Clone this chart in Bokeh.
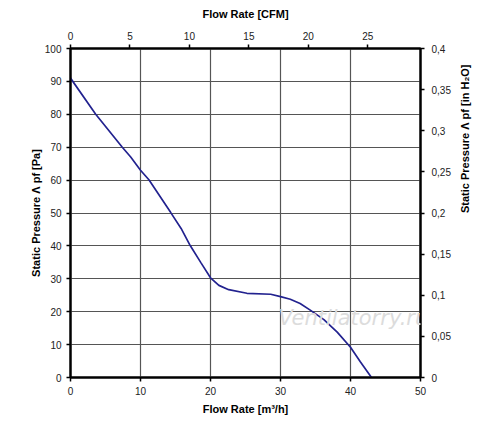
import math
from bokeh.plotting import figure
from bokeh.models import LinearAxis, Range1d, FixedTicker, CustomJSTickFormatter, Label
from bokeh.embed import file_html
from bokeh.resources import INLINE

# ---- data ----
flow_m3h = [0, 3.6, 7.4, 8.6, 10, 11.2, 14.3, 15.8, 17.1, 18.6, 20, 21.2, 22.6, 25.2,
            28.6, 30, 31.4, 32.8, 34.3, 36.2, 38.1, 40, 41.4, 43]
pressure_pa = [91, 80, 70, 67, 63, 60.1, 50.2, 45.3, 40.1, 35, 30.3, 28, 26.7, 25.6,
               25.3, 24.6, 23.8, 22.5, 20.4, 17.6, 13.8, 9.2, 4.8, 0]

m3h_ticks = [0, 10, 20, 30, 40, 50]
pa_ticks = [0, 10, 20, 30, 40, 50, 60, 70, 80, 90, 100]
cfm_ticks = [0, 5, 10, 15, 20, 25]
inh2o_ticks = [0, 0.05, 0.1, 0.15, 0.2, 0.25, 0.3, 0.35, 0.4]

M3H_MAX = 50
PA_MAX = 100
M3H_PER_CFM = 1.699
INH2O_MAX = 0.4

x_title = "Flow Rate [m³/h]"
top_title = "Flow Rate [CFM]"
y_title = "Static Pressure Λ pf [Pa]"
y2_title = "Static Pressure Λ pf [in H₂O]"
watermark = "Ventilatorry.ru"

FONT = "Liberation Sans"

p = figure(frame_width=350, frame_height=329,
           min_border_left=70, min_border_right=78, min_border_top=48, min_border_bottom=42,
           x_range=Range1d(0, M3H_MAX), y_range=Range1d(0, PA_MAX),
           output_backend="svg", toolbar_location=None)
p.background_fill_color = "white"
p.border_fill_color = "white"
p.outline_line_color = "black"
p.outline_line_width = 2

p.extra_x_ranges = {"cfm": Range1d(0, M3H_MAX / M3H_PER_CFM)}
p.extra_y_ranges = {"inh2o": Range1d(0, INH2O_MAX)}

def style(ax, title, standoff, label_standoff=5):
    ax.axis_label = title
    ax.axis_label_text_font = FONT
    ax.axis_label_text_font_style = "bold"
    ax.axis_label_text_font_size = "11px"
    ax.axis_label_text_color = "black"
    ax.axis_label_standoff = standoff
    ax.major_label_text_font = FONT
    ax.major_label_text_font_size = "10px"
    ax.major_label_text_color = "#222222"
    ax.major_label_standoff = label_standoff
    ax.axis_line_color = "black"
    ax.axis_line_width = 2
    ax.major_tick_line_color = "black"
    ax.major_tick_line_width = 1.5
    ax.major_tick_out = 4
    ax.major_tick_in = 0
    ax.minor_tick_line_color = None

xb = p.xaxis[0]
xb.ticker = FixedTicker(ticks=m3h_ticks)
style(xb, x_title, 5)

yl = p.yaxis[0]
yl.ticker = FixedTicker(ticks=pa_ticks)
style(yl, y_title, 0)

xt = LinearAxis(x_range_name="cfm", ticker=FixedTicker(ticks=cfm_ticks))
style(xt, top_title, 9)
p.add_layout(xt, "above")

yr = LinearAxis(y_range_name="inh2o", ticker=FixedTicker(ticks=inh2o_ticks))
yr.formatter = CustomJSTickFormatter(code="""
let s = tick.toFixed(2).replace(/0+$/, '').replace(/\\.$/, '');
return s.replace('.', ',');
""")
style(yr, y2_title, 11, 7)
if "axis_label_orientation" in LinearAxis.properties():
    yr.axis_label_orientation = math.pi / 2
p.add_layout(yr, "right")

p.xgrid.ticker = FixedTicker(ticks=m3h_ticks)
p.ygrid.ticker = FixedTicker(ticks=pa_ticks)
for g in (p.xgrid[0], p.ygrid[0]):
    g.grid_line_color = "#555555"
    g.grid_line_width = 1.2

p.add_layout(Label(x=29.7, y=18.1, text=watermark, text_font="DejaVu Sans",
                   text_font_style="italic", text_font_size="21px",
                   text_color="#dcdcdc", text_baseline="alphabetic", text_align="left"))

p.line(flow_m3h, pressure_pa, line_color="#22228f", line_width=1.7)

open("out.html", "w").write(file_html(p, INLINE))
